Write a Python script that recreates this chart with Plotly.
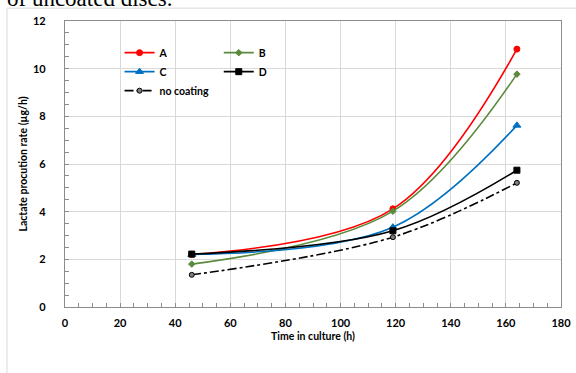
import plotly.graph_objects as go

time_h = [46, 119, 164]
series_names = ["A", "B", "C", "D", "no coating"]
vals_A = [2.2, 4.12, 10.82]
vals_B = [1.8, 4.02, 9.77]
vals_C = [2.2, 3.35, 7.62]
vals_D = [2.22, 3.2, 5.74]
vals_nc = [1.35, 2.93, 5.21]

x_ticks = [0, 20, 40, 60, 80, 100, 120, 140, 160, 180]
y_ticks = [0, 2, 4, 6, 8, 10, 12]

FONT = "Lato"
fig = go.Figure()

styles = [
    ("A", vals_A, "#FF0000", "circle", 6, "solid", "legend", "#FF0000"),
    ("B", vals_B, "#5B8A3C", "diamond", 5, "solid", "legend2", "#5B8A3C"),
    ("C", vals_C, "#0070C0", "triangle-up", 7, "solid", "legend", "#0070C0"),
    ("D", vals_D, "#000000", "square", 6, "solid", "legend2", "#000000"),
    ("no coating", vals_nc, "#000000", "circle", 5, "dashdot", "legend", "#7F7F7F"),
]
for name, vals, color, sym, size, dash, leg, fill in styles:
    fig.add_trace(go.Scatter(
        x=time_h, y=vals, name=name, mode="lines+markers",
        line=dict(color=color, width=1.6, shape="spline", smoothing=1.0, dash=dash),
        marker=dict(symbol=sym, size=size, color=fill, line=dict(color=color, width=1)),
        legend=leg,
    ))

axis_common = dict(
    showline=True, linecolor="#8C8C8C", linewidth=1.3, mirror=True,
    showgrid=True, gridcolor="#D9D9D9", gridwidth=1.3, zeroline=False,
    ticks="inside", ticklen=4, tickcolor="#8C8C8C", automargin=False,
    tickfont=dict(family=FONT, size=11, color="#000000", weight="bold"),
)
fig.update_xaxes(
    range=[0, 180], tickvals=x_ticks, ticktext=[str(v) for v in x_ticks],
    minor=dict(ticks="inside", dtick=5, ticklen=4, tickcolor="#8C8C8C", showgrid=False),
    title=dict(text="Time in culture (h)", font=dict(family=FONT, size=10.5, color="#000", weight="bold"), standoff=4),
    ticklabelstandoff=6,
    **axis_common,
)
fig.update_yaxes(
    range=[0, 12], tickvals=y_ticks, ticktext=[str(v) for v in y_ticks],
    minor=dict(ticks="inside", dtick=0.5, ticklen=4, tickcolor="#8C8C8C", showgrid=False),
    title=dict(text="Lactate procution rate (µg/h)", font=dict(family=FONT, size=10.5, color="#000", weight="bold"), standoff=3),
    ticklabelstandoff=16,
    **axis_common,
)

legfont = dict(family=FONT, size=10.5, color="#000", weight="bold")
fig.update_layout(
    width=576, height=373,
    margin=dict(l=65, r=15, t=21, b=66),
    paper_bgcolor="white", plot_bgcolor="white",
    showlegend=True,
    legend=dict(x=0.11, y=0.94, xanchor="left", yanchor="top", bgcolor="rgba(0,0,0,0)",
                font=legfont, itemwidth=30, tracegroupgap=0),
    legend2=dict(x=0.31, y=0.94, xanchor="left", yanchor="top", bgcolor="rgba(0,0,0,0)",
                 font=legfont, itemwidth=30, tracegroupgap=0),
    shapes=[dict(type="rect", xref="paper", yref="paper",
                 x0=-0.117, x1=1.05, y0=-0.24, y1=1.045,
                 line=dict(color="#D9D9D9", width=1))],
    annotations=[dict(text="of uncoated discs.", xref="paper", yref="paper",
                      x=-0.12, y=1.078, xanchor="left", yanchor="middle", showarrow=False,
                      font=dict(family="Liberation Serif", size=23, color="#000"))],
)

fig.write_html("out.html", config={"displayModeBar": False},
               post_script="document.body.style.margin='0';document.body.style.overflow='hidden';")
